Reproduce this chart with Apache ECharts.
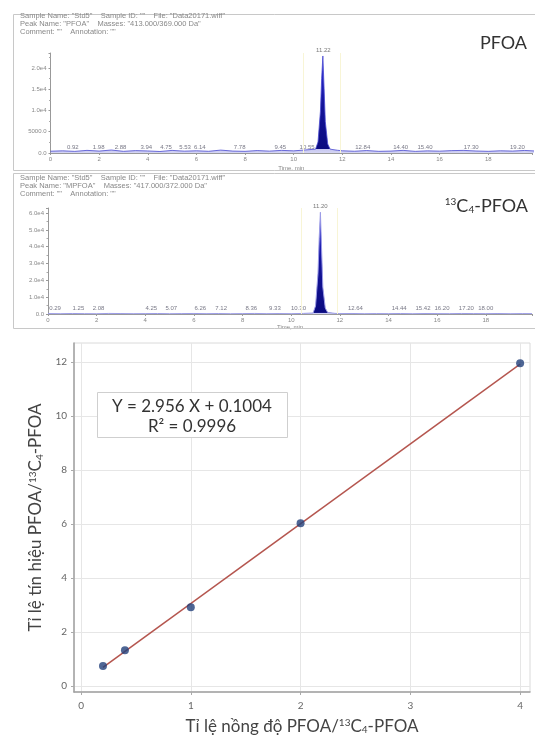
<!DOCTYPE html>
<html>
<head>
<meta charset="utf-8">
<title>PFOA / 13C4-PFOA</title>
<script src="https://cdn.jsdelivr.net/npm/echarts@6/dist/echarts.min.js"></script>
<style>
html, body { margin: 0; padding: 0; background: #fff; }
#chart { width: 535px; height: 740px; }
</style>
</head>
<body>
<div id="chart"></div>
<script>
// --- chromatograms (time, min / intensity, cps) ---
var chromTime = [0, 0.5, 1, 1.5, 2, 2.5, 3, 3.5, 4, 4.5, 5, 5.5, 6, 6.5, 7, 7.5, 8, 8.5, 9, 9.5, 10, 10.5,
  10.9, 11.0, 11.1, 11.15, 11.2, 11.25, 11.3, 11.4, 11.5, 11.8,
  12, 12.5, 13, 13.5, 14, 14.5, 15, 15.5, 16, 16.5, 17, 17.5, 18, 18.5, 19, 19.5, 19.9];
var pfoaSignal = [420, 510, 380, 620, 450, 700, 390, 560, 480, 350, 610, 430, 520, 400, 680, 450, 390, 570, 440, 620, 500, 730,
  900, 2600, 9800, 17500, 22800, 15200, 7400, 2100, 900, 640,
  520, 410, 580, 390, 450, 620, 380, 500, 430, 560, 610, 470, 390, 520, 450, 600, 480];
var mpfoaSignal = [260, 180, 310, 220, 150, 340, 270, 190, 230, 300, 170, 250, 320, 210, 280, 160, 240, 330, 200, 270, 190, 350,
  600, 4800, 24000, 45000, 60500, 38000, 16000, 3500, 900, 380,
  240, 310, 180, 260, 220, 300, 170, 280, 230, 190, 320, 250, 210, 290, 180, 260, 230];

// retention times printed along the baseline
var pfoaPeakTimes = [0.92, 1.98, 2.88, 3.94, 4.75, 5.53, 6.14, 7.78, 9.45, 10.55, 12.84, 14.40, 15.40, 17.30, 19.20];
var mpfoaPeakTimes = [0.29, 1.25, 2.08, 4.25, 5.07, 6.26, 7.12, 8.36, 9.33, 10.30, 12.64, 14.44, 15.42, 16.20, 17.20, 18.00];
var pfoaApex = [11.22, 22800];
var mpfoaApex = [11.20, 60500];

var pfoaTickLabels = { 0: '0.0', 5000: '5000.0', 10000: '1.0e4', 15000: '1.5e4', 20000: '2.0e4' };
var mpfoaTickLabels = { 0: '0.0', 10000: '1.0e4', 20000: '2.0e4', 30000: '3.0e4', 40000: '4.0e4', 50000: '5.0e4', 60000: '6.0e4' };

// --- calibration ---
var concRatio = [0.2, 0.4, 1, 2, 4];
var signalRatio = [0.74, 1.33, 2.92, 6.03, 11.95];
var fitX = [0.2, 4];
var fitY = [0.69, 11.92];
var fitSlope = 2.956, fitIntercept = 0.1004, fitR2 = 0.9996;
var xTicks = [0, 1, 2, 3, 4];
var yTicks = [0, 2, 4, 6, 8, 10, 12];

var small = '"Liberation Sans", Arial, sans-serif';
var body = 'Lato, "Noto Sans", sans-serif';

function pairs(xs, ys) {
  return xs.map(function (x, i) { return [x, ys[i]]; });
}

function chromAxes(idx, max, tickMap, interval, xMax) {
  return {
    x: {
      type: 'value', gridIndex: idx, min: 0, max: xMax, interval: 2,
      name: 'Time, min', nameLocation: 'middle', nameGap: idx === 0 ? 12 : 9,
      nameTextStyle: { fontSize: 6, color: '#888', fontFamily: small },
      axisLine: { lineStyle: { color: '#999', width: 1 } },
      axisTick: { length: 2, lineStyle: { color: '#999' } },
      axisLabel: { fontSize: 6, color: '#888', margin: 3, fontFamily: small,
        formatter: function (v) { return v % 2 === 0 ? String(v) : ''; } },
      splitLine: { show: false }
    },
    y: {
      type: 'value', gridIndex: idx, min: 0, max: max, interval: interval,
      axisLine: { show: true, lineStyle: { color: '#999', width: 1 } },
      axisTick: { show: true, length: 2, lineStyle: { color: '#999' } },
      minorTick: { show: true, splitNumber: 2, length: 1.5, lineStyle: { color: '#aaa' } },
      axisLabel: { fontSize: 6, color: '#888', margin: 4, fontFamily: small,
        formatter: function (v) { return tickMap[v] || ''; } },
      splitLine: { show: false }
    }
  };
}

var top1 = chromAxes(0, 23500, pfoaTickLabels, 5000, 19.8);
var top2 = chromAxes(1, 63000, mpfoaTickLabels, 10000, 19.9);

function peakLabels(idx, times) {
  return {
    type: 'scatter', xAxisIndex: idx, yAxisIndex: idx, symbolSize: 0, silent: true,
    data: times.map(function (t) { return [t, 0]; }),
    label: { show: true, position: 'top', distance: 3, fontSize: 6, color: '#556', fontFamily: small,
      formatter: function (p) { return p.value[0].toFixed(2); } }
  };
}

function apexLabel(idx, apex) {
  return {
    type: 'scatter', xAxisIndex: idx, yAxisIndex: idx, symbolSize: 0, silent: true,
    data: [apex],
    label: { show: true, position: 'top', distance: 3, fontSize: 6, color: '#555', fontFamily: small,
      formatter: function (p) { return p.value[0].toFixed(2); } }
  };
}

// peak fill: deep blue, the thin band of baseline noise stays light
function peakFill(cut) {
  return new echarts.graphic.LinearGradient(0, 0, 0, 1, [
    { offset: 0, color: '#3030e0' },
    { offset: 0.5, color: '#14149a' },
    { offset: cut, color: '#0b0b80' },
    { offset: cut + 0.005, color: 'rgba(90,90,210,0.35)' },
    { offset: 1, color: 'rgba(90,90,210,0.25)' }
  ]);
}

var headerStyle = { fontSize: 7.5, fill: '#888', fontFamily: small };
function header(y0, peak, masses) {
  var lines = [
    'Sample Name: "Std5"    Sample ID: ""    File: "Data20171.wiff"',
    'Peak Name: "' + peak + '"    Masses: "' + masses + '"',
    'Comment: ""    Annotation: ""'
  ];
  return lines.map(function (t, i) {
    return { type: 'text', left: 20, top: y0 + i * 8, z: 100,
      style: Object.assign({ text: t }, headerStyle) };
  });
}

var richName = {
  m: { fontSize: 17, fontFamily: body, color: '#444' },
  sup: { fontSize: 10, fontFamily: body, color: '#444', verticalAlign: 'top', padding: [0, 0, 6, 0] },
  sub: { fontSize: 10, fontFamily: body, color: '#444', verticalAlign: 'bottom', padding: [6, 0, 0, 0] }
};

var chart = echarts.init(document.getElementById('chart'), null, { renderer: 'canvas' });

chart.setOption({
  backgroundColor: '#fff',
  animation: false,
  grid: [
    { left: 50.5, right: 0, top: 53, bottom: 587 },
    { left: 48, right: 0, top: 208, bottom: 426 },
    { left: 74, right: 5, top: 343, bottom: 48, show: true, borderColor: '#dadada', borderWidth: 1 }
  ],
  xAxis: [
    top1.x, top2.x,
    {
      type: 'value', gridIndex: 2, min: -0.064, max: 4.09,
      name: '{m|Tỉ lệ nồng độ PFOA/}{sup|13}{m|C}{sub|4}{m|-PFOA}',
      nameLocation: 'middle', nameGap: 26,
      nameTextStyle: { rich: richName },
      axisLine: { onZero: false, lineStyle: { color: '#a0a0a0', width: 1.5 } },
      axisTick: { show: true, length: 3, customValues: xTicks, lineStyle: { color: '#aaa' } },
      axisLabel: { customValues: xTicks, fontSize: 10, color: '#666', margin: 9, fontFamily: body },
      splitLine: { show: true, lineStyle: { color: '#e6e6e6' } }
    }
  ],
  yAxis: [
    top1.y, top2.y,
    {
      type: 'value', gridIndex: 2, min: -0.22, max: 12.7,
      name: '{m|Tỉ lệ tín hiệu PFOA/}{sup|13}{m|C}{sub|4}{m|-PFOA}',
      nameLocation: 'middle', nameGap: 29, nameRotate: 90,
      nameTextStyle: { rich: richName },
      axisLine: { show: true, onZero: false, lineStyle: { color: '#a0a0a0', width: 1.5 } },
      axisTick: { show: true, length: 3, customValues: yTicks, lineStyle: { color: '#aaa' } },
      axisLabel: { customValues: yTicks, fontSize: 10, color: '#666', margin: 7, fontFamily: body },
      splitLine: { show: true, lineStyle: { color: '#e6e6e6' } }
    }
  ],
  series: [
    {
      type: 'line', xAxisIndex: 0, yAxisIndex: 0, symbol: 'none', silent: true,
      data: pairs(chromTime, pfoaSignal),
      lineStyle: { color: '#4a4ad0', width: 0.8 },
      areaStyle: { color: peakFill(0.955), opacity: 1 },
      markLine: { silent: true, symbol: 'none', label: { show: false },
        lineStyle: { color: '#f8f5d6', type: 'solid', width: 1 },
        data: [{ xAxis: 10.4 }, { xAxis: 11.9 }] }
    },
    peakLabels(0, pfoaPeakTimes),
    apexLabel(0, pfoaApex),
    {
      type: 'line', xAxisIndex: 1, yAxisIndex: 1, symbol: 'none', silent: true,
      data: pairs(chromTime, mpfoaSignal),
      lineStyle: { color: '#9c9ce6', width: 1 },
      areaStyle: { color: peakFill(0.985), opacity: 1 },
      markLine: { silent: true, symbol: 'none', label: { show: false },
        lineStyle: { color: '#f8f5d6', type: 'solid', width: 1 },
        data: [{ xAxis: 10.4 }, { xAxis: 11.9 }] }
    },
    peakLabels(1, mpfoaPeakTimes),
    apexLabel(1, mpfoaApex),
    {
      type: 'line', xAxisIndex: 2, yAxisIndex: 2, symbol: 'none', silent: true,
      data: pairs(fitX, fitY),
      lineStyle: { color: '#b5564f', width: 1.5 },
      z: 3
    },
    {
      type: 'scatter', xAxisIndex: 2, yAxisIndex: 2, symbolSize: 8,
      data: pairs(concRatio, signalRatio),
      itemStyle: { color: '#22407a' },
      z: 4
    }
  ],
  graphic: [
    { type: 'rect', z: 100, shape: { x: 13.5, y: 14.5, width: 530, height: 156 },
      style: { fill: 'none', stroke: '#c8c8c8', lineWidth: 1 } },
    { type: 'rect', z: 100, shape: { x: 13.5, y: 173.5, width: 530, height: 155 },
      style: { fill: 'none', stroke: '#c8c8c8', lineWidth: 1 } },
    { type: 'text', z: 100, right: 8, top: 34,
      style: { text: 'PFOA', fontSize: 18, fill: '#333', fontFamily: body } },
    { type: 'text', z: 100, right: 7, top: 197,
      style: {
        text: '{sup|13}{m|C}{sub|4}{m|-PFOA}',
        rich: {
          m: { fontSize: 18, fill: '#333', fontFamily: body },
          sup: { fontSize: 10, fill: '#333', fontFamily: body, verticalAlign: 'top', padding: [0, 0, 7, 0] },
          sub: { fontSize: 10, fill: '#333', fontFamily: body, verticalAlign: 'bottom', padding: [7, 0, 0, 0] }
        }
      } },
    { type: 'group', z: 100, children: [
      { type: 'rect', z: 100, shape: { x: 97.5, y: 392.5, width: 190, height: 45 },
        style: { fill: '#fff', stroke: '#cfcfcf', lineWidth: 1 } },
      { type: 'text', z: 101, x: 192, y: 407,
        style: { text: 'Y = ' + fitSlope + ' X + ' + fitIntercept, fontSize: 17, fill: '#333',
          fontFamily: body, align: 'center', verticalAlign: 'middle' } },
      { type: 'text', z: 101, x: 192, y: 427,
        style: { text: 'R² = ' + fitR2, fontSize: 17, fill: '#333',
          fontFamily: body, align: 'center', verticalAlign: 'middle' } }
    ] }
  ].concat(header(12, 'PFOA', '413.000/369.000 Da'), header(174, 'MPFOA', '417.000/372.000 Da'))
});
</script>
</body>
</html>
